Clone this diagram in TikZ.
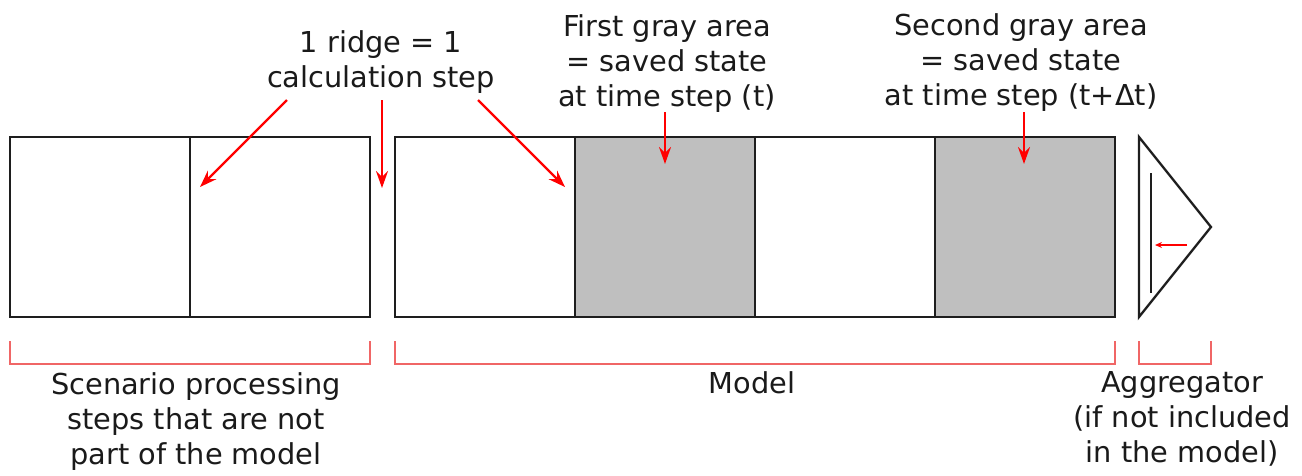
\documentclass[tikz,border=0pt]{standalone}
\usepackage{fontspec}
\setmainfont{DejaVu Sans}
\usetikzlibrary{arrows.meta}
\definecolor{boxgray}{HTML}{BFBFBF}
\definecolor{brk}{HTML}{F06666}
\definecolor{txt}{HTML}{1A1A1A}
\definecolor{edge}{HTML}{1E1E1E}
\begin{document}
\begin{tikzpicture}[x=1pt,y=-1pt,
  cell/.style={draw=edge,line width=2.3pt,minimum width=180pt,minimum height=180pt,inner sep=0pt,outer sep=0pt,anchor=north west},
  graycell/.style={cell,fill=boxgray},
  lbl/.style={font=\fontsize{28.8}{35}\selectfont,align=center,anchor=base,inner sep=0pt,text=txt},
  redarr/.style={red,line width=2.3pt,-{Stealth[length=17pt,width=12pt,inset=6pt]}},
  smallarr/.style={red,line width=1.2pt,-{Stealth[length=7pt,width=6pt]}},
  bracket/.style={brk,line width=1.6pt},
  shape line/.style={edge,line width=2.3pt}
]
\useasboundingbox (0,0) rectangle (1302,475);
% cells
\node[cell] (s1) at (10,137) {};
\node[cell] (s2) at (190,137) {};
\node[cell] (m1) at (395,137) {};
\node[graycell] (m2) at (575,137) {};
\node[cell] (m3) at (755,137) {};
\node[graycell] (m4) at (935,137) {};
% aggregator
\draw[shape line] (1139,137) -- (1211,227) -- (1139,317) -- cycle;
\draw[shape line] (1151,173) -- (1151,293);
\coordinate (aggA) at (1187,245);
\coordinate (aggB) at (1155,245);
\draw[smallarr] (aggA) -- (aggB);
% top labels (anchored at the baseline of the last line)
\node[lbl] (ridge) at (381,87) {1 ridge = 1\\calculation step};
\node[lbl] (first) at (667,106) {First gray area\\= saved state\\at time step (t)};
\node[lbl] (second) at (1021,105) {Second gray area\\= saved state\\at time step (t+Δt)};
% arrows
\coordinate (r1s) at (287,100); \coordinate (r1e) at (200,187);
\coordinate (r2s) at (382,100); \coordinate (r2e) at (382,188);
\coordinate (r3s) at (478,100); \coordinate (r3e) at (565,187);
\coordinate (g1s) at (665,112); \coordinate (g1e) at (665,164);
\coordinate (g2s) at (1024,112); \coordinate (g2e) at (1024,164);
\draw[redarr] (r1s) -- (r1e);
\draw[redarr] (r2s) -- (r2e);
\draw[redarr] (r3s) -- (r3e);
\draw[redarr] (g1s) -- (g1e);
\draw[redarr] (g2s) -- (g2e);
% brackets
\draw[bracket] (10,341) |- (370,364) -- (370,341);
\draw[bracket] (395,341) |- (1115,364) -- (1115,341);
\draw[bracket] (1139,341) |- (1211,364) -- (1211,341);
% bottom labels
\node[lbl] (scen) at (196,464) {Scenario processing\\steps that are not\\part of the model};
\node[lbl] (model) at (752,393) {Model};
\node[lbl] (agg) at (1182,462) {Aggregator\\(if not included\\in the model)};
\end{tikzpicture}
\end{document}
